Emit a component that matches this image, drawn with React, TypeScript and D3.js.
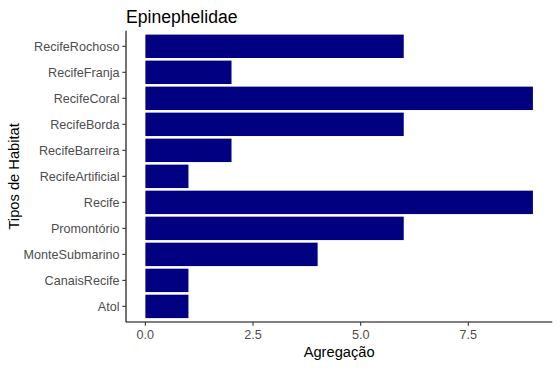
import React from "react";
import * as d3 from "d3";

const categories = ["RecifeRochoso", "RecifeFranja", "RecifeCoral", "RecifeBorda", "RecifeBarreira", "RecifeArtificial", "Recife", "Promontório", "MonteSubmarino", "CanaisRecife", "Atol"];
const values = [6, 2, 9, 6, 2, 1, 9, 6, 4, 1, 1];
const xTicks = [0, 2.5, 5, 7.5];

export default function App() {
  const W = 560, H = 368;
  const left = 126, right = 552.3, top = 30.7, bottom = 322;
  const maxV = d3.max(values) as number;
  const x = d3.scaleLinear().domain([-maxV * 0.05, maxV * 1.05]).range([left, right]);
  const y = d3.scaleBand().domain(categories).range([top, bottom]).paddingInner(0.1).paddingOuter(0.15);
  const font = "'Liberation Sans', Arial, sans-serif";
  return (
    <svg width={W} height={H} style={{ position: "absolute", left: 0, top: 0 }} fontFamily={font}>
      <rect width={W} height={H} fill="white" />
      {categories.map((c, i) => (
        <rect key={c} x={x(0)} y={y(c)} width={x(values[i]) - x(0)} height={y.bandwidth()} fill="#000080" />
      ))}
      <line x1={left} x2={left} y1={top} y2={bottom} stroke="black" strokeWidth={1.1} />
      <line x1={left} x2={right} y1={bottom} y2={bottom} stroke="black" strokeWidth={1.1} />
      {categories.map((c) => {
        const cy = (y(c) as number) + y.bandwidth() / 2;
        return (
          <g key={c}>
            <line x1={left - 3.7} x2={left} y1={cy} y2={cy} stroke="#333333" strokeWidth={1.1} />
            <text x={left - 6.5} y={cy} dy="0.35em" textAnchor="end" fontSize={12.6} fill="#4D4D4D">{c}</text>
          </g>
        );
      })}
      {xTicks.map((t) => (
        <g key={t}>
          <line x1={x(t)} x2={x(t)} y1={bottom} y2={bottom + 3.7} stroke="#333333" strokeWidth={1.1} />
          <text x={x(t)} y={bottom + 17} textAnchor="middle" fontSize={12.6} fill="#4D4D4D">{t.toFixed(1)}</text>
        </g>
      ))}
      <text x={(left + right) / 2} y={357} textAnchor="middle" fontSize={14.7} fill="black">Agregação</text>
      <text transform={`translate(${19},${(top + bottom) / 2}) rotate(-90)`} textAnchor="middle" fontSize={14.7} fill="black">Tipos de Habitat</text>
      <text x={left} y={23} fontSize={17.6} fill="black">Epinephelidae</text>
    </svg>
  );
}
